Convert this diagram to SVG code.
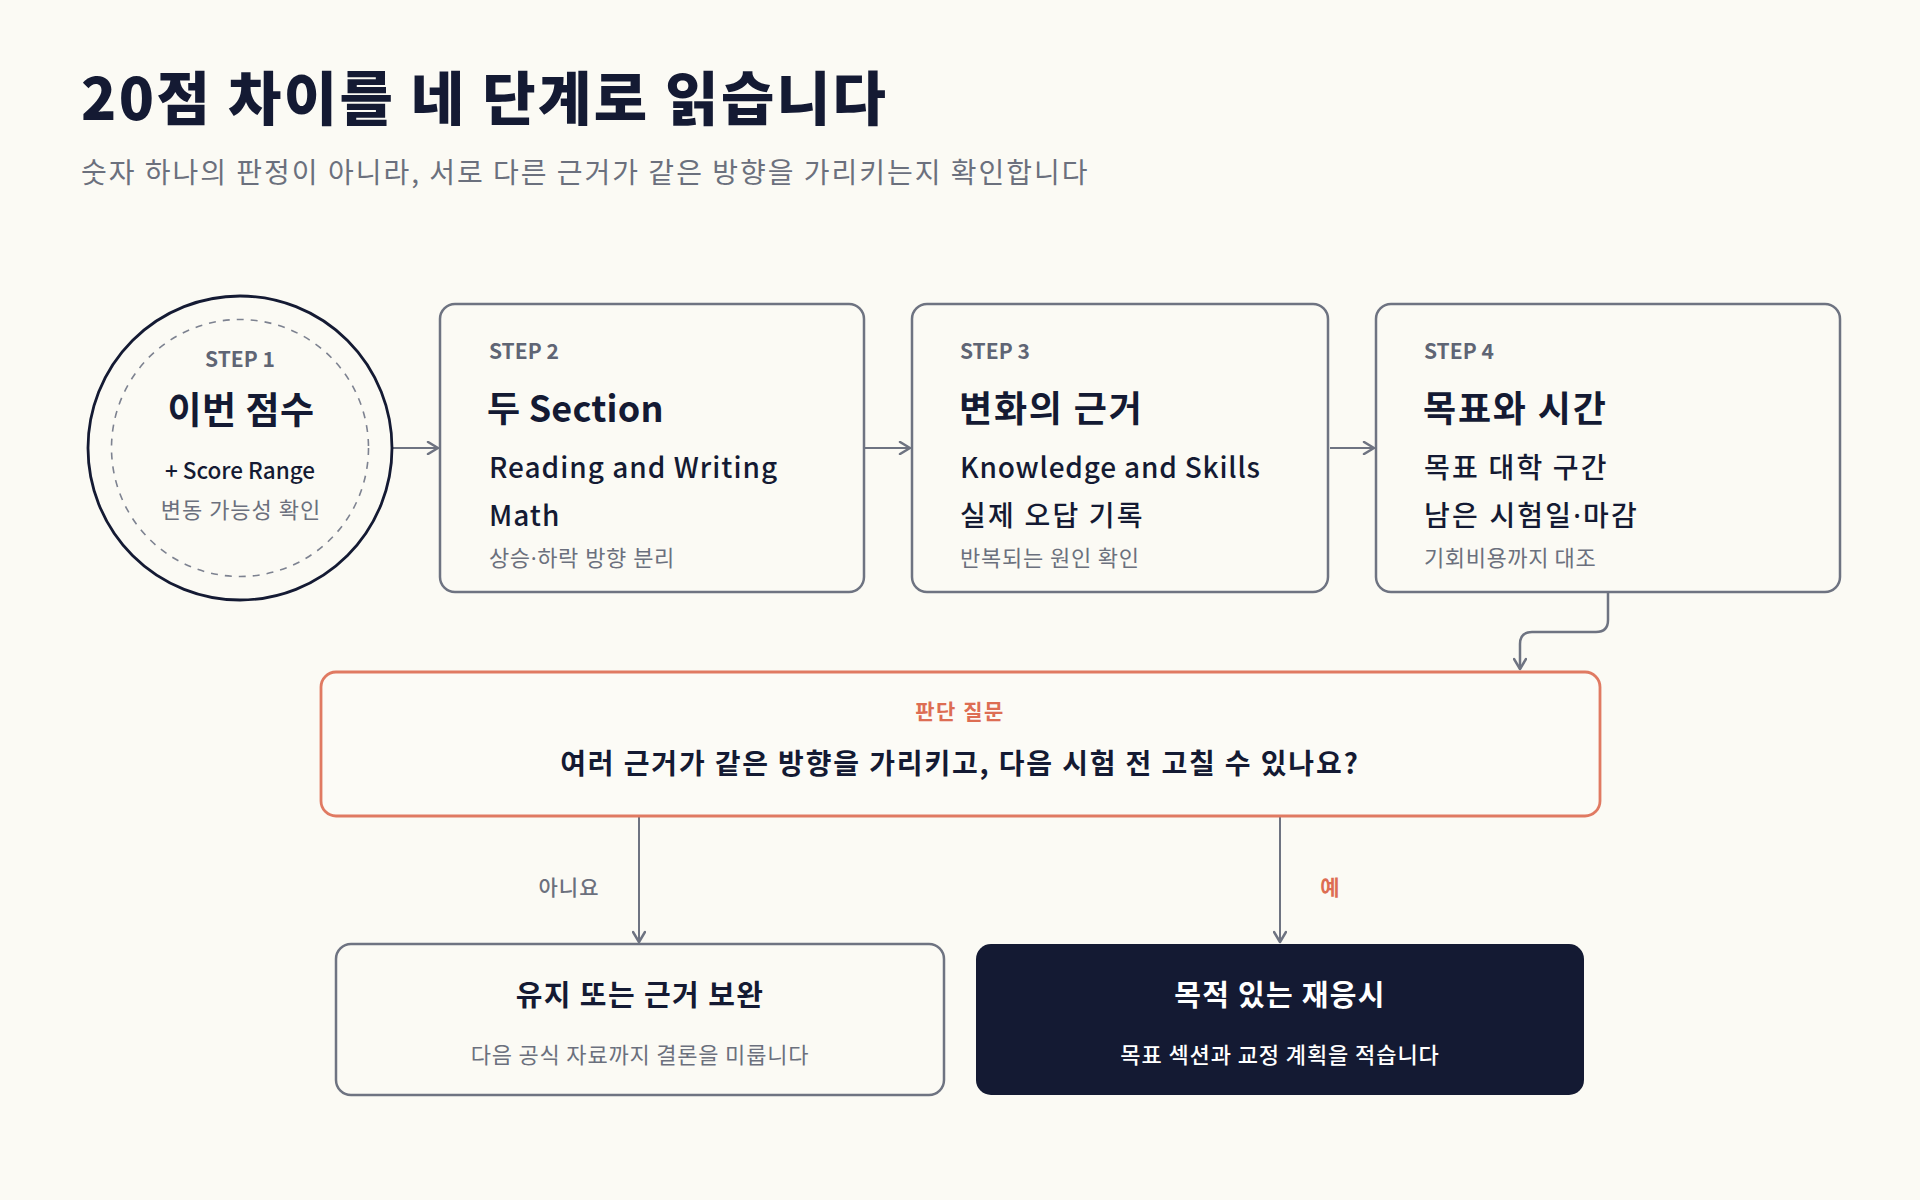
<svg xmlns="http://www.w3.org/2000/svg" width="1920" height="1200" viewBox="0 0 1920 1200">
<defs>
<style>
text{font-family:"Noto Sans CJK KR","Noto Sans",sans-serif}
.dot{font-family:"Noto Sans","Noto Sans CJK KR",sans-serif}
.title{font-size:58px;font-weight:900;fill:#141a33;letter-spacing:2.4px}
.sub{font-size:28px;fill:#6b707d;letter-spacing:2px}
.step{font-size:21px;font-weight:700;fill:#5f6574}
.h{font-size:36px;font-weight:700;fill:#141a33;letter-spacing:1.8px}
.l{font-size:28px;font-weight:500;fill:#141a33;letter-spacing:2.2px}
.le{font-size:28px;font-weight:500;fill:#141a33;letter-spacing:1px}
.s{font-size:22px;fill:#6b707d;letter-spacing:0.6px}
.box{fill:#fbfaf4;stroke:#6e7381;stroke-width:2.5}
.conn{fill:none;stroke:#6e7381;stroke-width:2.5}
.conn2{fill:none;stroke:#6e7381;stroke-width:2}
</style>
<marker id="ah" viewBox="0 0 14 14" markerWidth="14" markerHeight="14" refX="12" refY="7" orient="auto" markerUnits="userSpaceOnUse">
<path d="M2,1 L12,7 L2,13" fill="none" stroke="#6e7381" stroke-width="2.5" stroke-linecap="round" stroke-linejoin="round"/>
</marker>
</defs>
<rect width="1920" height="1200" fill="#fbfaf4"/>
<g id="header">
<text class="title" x="81" y="120">20점 차이를 네 단계로 읽습니다</text>
<text class="sub" x="81" y="183">숫자 하나의 판정이 아니라, 서로 다른 근거가 같은 방향을 가리키는지 확인합니다</text>
</g>
<g id="connectors">
<line class="conn2" x1="393" y1="448" x2="438" y2="448" marker-end="url(#ah)"/>
<line class="conn2" x1="865" y1="448" x2="910" y2="448" marker-end="url(#ah)"/>
<line class="conn2" x1="1330" y1="448" x2="1374" y2="448" marker-end="url(#ah)"/>
<path class="conn" d="M1608,593 L1608,620 Q1608,632 1596,632 L1532,632 Q1520,632 1520,644 L1520,669" marker-end="url(#ah)"/>
<line class="conn2" x1="639" y1="817" x2="639" y2="942" marker-end="url(#ah)"/>
<line class="conn2" x1="1280" y1="817" x2="1280" y2="942" marker-end="url(#ah)"/>
<text x="569" y="895" text-anchor="middle" style="font-size:21px;fill:#6b707d;font-weight:500;letter-spacing:1px">아니요</text>
<text x="1330" y="895" text-anchor="middle" style="font-size:21px;fill:#dd6d53;font-weight:700">예</text>
</g>
<g id="step1">
<circle cx="240" cy="448" r="152" fill="#fbfaf4" stroke="#141a33" stroke-width="2.8"/>
<circle cx="240" cy="448" r="128.5" fill="none" stroke="#7d8290" stroke-width="1.6" stroke-dasharray="7 7"/>
<text class="step" x="240" y="367" text-anchor="middle">STEP 1</text>
<text x="241" y="424" text-anchor="middle" style="font-size:37px;font-weight:700;fill:#141a33;letter-spacing:0.5px">이번 점수</text>
<text x="240" y="479" text-anchor="middle" style="font-size:22.5px;font-weight:500;fill:#141a33">+ Score Range</text>
<text x="241" y="518" text-anchor="middle" style="font-size:22px;fill:#6b707d;letter-spacing:1px">변동 가능성 확인</text>
</g>
<g id="step2">
<rect class="box" x="440" y="304" width="424" height="288" rx="15"/>
<text class="step" x="489" y="359">STEP 2</text>
<text class="h" x="487" y="422" style="letter-spacing:0.2px">두 Section</text>
<text class="le" x="489" y="478">Reading and Writing</text>
<text class="le" x="489" y="526">Math</text>
<text class="s dot" x="489" y="566">상승·하락 방향 분리</text>
</g>
<g id="step3">
<rect class="box" x="912" y="304" width="416" height="288" rx="15"/>
<text class="step" x="960" y="359">STEP 3</text>
<text class="h" x="959" y="422">변화의 근거</text>
<text class="le" x="960" y="478" style="letter-spacing:0.8px">Knowledge and Skills</text>
<text class="l" x="960" y="526">실제 오답 기록</text>
<text class="s" x="960" y="566" style="letter-spacing:0.8px">반복되는 원인 확인</text>
</g>
<g id="step4">
<rect class="box" x="1376" y="304" width="464" height="288" rx="15"/>
<text class="step" x="1424" y="359">STEP 4</text>
<text class="h" x="1423" y="422">목표와 시간</text>
<text class="l" x="1424" y="478">목표 대학 구간</text>
<text class="l dot" x="1424" y="526">남은 시험일·마감</text>
<text class="s" x="1424" y="566">기회비용까지 대조</text>
</g>
<g id="decision">
<rect x="321" y="672" width="1279" height="144" rx="15" fill="#fcfbf6" stroke="#e07a62" stroke-width="2.8"/>
<text x="960" y="719" text-anchor="middle" style="font-size:21px;font-weight:700;fill:#dd6d53;letter-spacing:1.5px">판단 질문</text>
<text x="960" y="774" text-anchor="middle" style="font-size:28px;font-weight:700;fill:#141a33;letter-spacing:1.85px">여러 근거가 같은 방향을 가리키고, 다음 시험 전 고칠 수 있나요?</text>
</g>
<g id="no-branch">
<rect class="box" x="336" y="944" width="608" height="151" rx="15"/>
<text x="640" y="1006" text-anchor="middle" style="font-size:29px;font-weight:700;fill:#141a33;letter-spacing:1.4px">유지 또는 근거 보완</text>
<text x="640" y="1063" text-anchor="middle" style="font-size:22px;fill:#6b707d;letter-spacing:0.8px">다음 공식 자료까지 결론을 미룹니다</text>
</g>
<g id="yes-branch">
<rect x="976" y="944" width="608" height="151" rx="15" fill="#141a33"/>
<text x="1280" y="1006" text-anchor="middle" style="font-size:29px;font-weight:700;fill:#ffffff;letter-spacing:1.3px">목적 있는 재응시</text>
<text x="1280" y="1063" text-anchor="middle" style="font-size:22px;font-weight:500;fill:#ffffff;letter-spacing:0.9px">목표 섹션과 교정 계획을 적습니다</text>
</g>
</svg>
